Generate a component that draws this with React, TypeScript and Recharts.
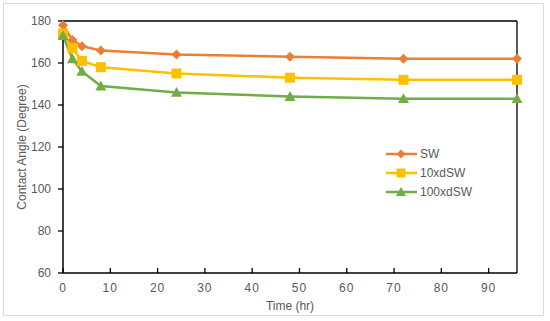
import React from 'react';
import { LineChart, Line, XAxis, YAxis, ReferenceLine } from 'recharts';

const times = [0, 2, 4, 8, 24, 48, 72, 96];
const swValues = [178, 171, 168, 166, 164, 163, 162, 162];
const d10Values = [174, 167, 161, 158, 155, 153, 152, 152];
const d100Values = [173, 162, 156, 149, 146, 144, 143, 143];
const xTicks = [0, 10, 20, 30, 40, 50, 60, 70, 80, 90];
const yTicks = [60, 80, 100, 120, 140, 160, 180];

const seriesNames = ['SW', '10xdSW', '100xdSW'];
const colors = ['#ED7D31', '#FFC000', '#70AD47'];

const data = times.map((t, i) => ({ t, sw: swValues[i], d10: d10Values[i], d100: d100Values[i] }));

const FONT = '"Liberation Sans", Arial, sans-serif';
const TEXT = '#595959';

const Diamond = (p: any) => {
  const { cx, cy, fill, size = 5 } = p;
  if (cx == null || cy == null) return null;
  return <path d={`M${cx},${cy - size}L${cx + size},${cy}L${cx},${cy + size}L${cx - size},${cy}Z`} fill={fill} />;
};
const Square = (p: any) => {
  const { cx, cy, fill, size = 5 } = p;
  if (cx == null || cy == null) return null;
  return <rect x={cx - size} y={cy - size} width={size * 2} height={size * 2} fill={fill} />;
};
const Triangle = (p: any) => {
  const { cx, cy, fill, size = 5.5 } = p;
  if (cx == null || cy == null) return null;
  return <path d={`M${cx},${cy - size}L${cx + size},${cy + size * 0.8}L${cx - size},${cy + size * 0.8}Z`} fill={fill} />;
};
const shapes = [Diamond, Square, Triangle];

const LegendBox = () => (
  <div style={{ position: 'absolute', left: 386, top: 144, fontFamily: FONT, fontSize: 12, color: TEXT }}>
    {seriesNames.map((n, i) => {
      const Shape = shapes[i];
      return (
        <div key={n} style={{ display: 'flex', alignItems: 'center', height: 19.3 }}>
          <svg width={32} height={14} style={{ display: 'block' }}>
            <line x1={0} x2={31} y1={7} y2={7} stroke={colors[i]} strokeWidth={2.5} />
            <Shape cx={15} cy={7} fill={colors[i]} size={i === 2 ? 5 : 4.5} />
          </svg>
          <span style={{ marginLeft: 2 }}>{n}</span>
        </div>
      );
    })}
  </div>
);

export default function App() {
  return (
    <div style={{ position: 'absolute', left: 0, top: 0, width: 550, height: 321, background: '#fff' }}>
      <div style={{ position: 'absolute', left: 3, top: 3, width: 539, height: 311, border: '1px solid #d9d9d9' }} />
      <div style={{ position: 'absolute', left: 0, top: 0 }}>
        <LineChart width={550} height={321} data={data} margin={{ top: 21, right: 33, bottom: 0, left: 0 }}>
          <XAxis
            type="number"
            dataKey="t"
            domain={[0, 96]}
            ticks={xTicks}
            interval={0}
            height={48}
            tickSize={-5}
            tickMargin={15}
            axisLine={{ stroke: '#000', strokeWidth: 1.5 }}
            tickLine={{ stroke: '#000', strokeWidth: 1.3 }}
            tick={{ fill: TEXT, fontSize: 12, fontFamily: FONT, letterSpacing: 1 }}
            label={{ value: 'Time (hr)', position: 'center', dy: 9, style: { fill: TEXT, fontSize: 12, fontFamily: FONT } }}
          />
          <YAxis
            type="number"
            domain={[60, 180]}
            ticks={yTicks}
            interval={0}
            width={63}
            tickSize={5}
            tickMargin={7}
            axisLine={{ stroke: '#000', strokeWidth: 1.5 }}
            tickLine={{ stroke: '#000', strokeWidth: 1.3 }}
            tick={{ fill: TEXT, fontSize: 12, fontFamily: FONT }}
            label={{ value: 'Contact Angle (Degree)', angle: -90, position: 'center', dx: -10, style: { fill: TEXT, fontSize: 12, fontFamily: FONT, textAnchor: 'middle' } }}
          />
          <ReferenceLine y={180} stroke="#000" strokeWidth={1.3} />
          <ReferenceLine x={96} stroke="#000" strokeWidth={1.3} />
          <Line dataKey="sw" name={seriesNames[0]} stroke={colors[0]} strokeWidth={2.5} isAnimationActive={false}
            dot={(p: any) => <Diamond key={`sw${p.index}`} cx={p.cx} cy={p.cy} fill={colors[0]} size={5} />} activeDot={false} />
          <Line dataKey="d10" name={seriesNames[1]} stroke={colors[1]} strokeWidth={2.5} isAnimationActive={false}
            dot={(p: any) => <Square key={`d10${p.index}`} cx={p.cx} cy={p.cy} fill={colors[1]} size={5} />} activeDot={false} />
          <Line dataKey="d100" name={seriesNames[2]} stroke={colors[2]} strokeWidth={2.5} isAnimationActive={false}
            dot={(p: any) => <Triangle key={`d100${p.index}`} cx={p.cx} cy={p.cy} fill={colors[2]} size={5.5} />} activeDot={false} />
        </LineChart>
      </div>
      <LegendBox />
    </div>
  );
}
